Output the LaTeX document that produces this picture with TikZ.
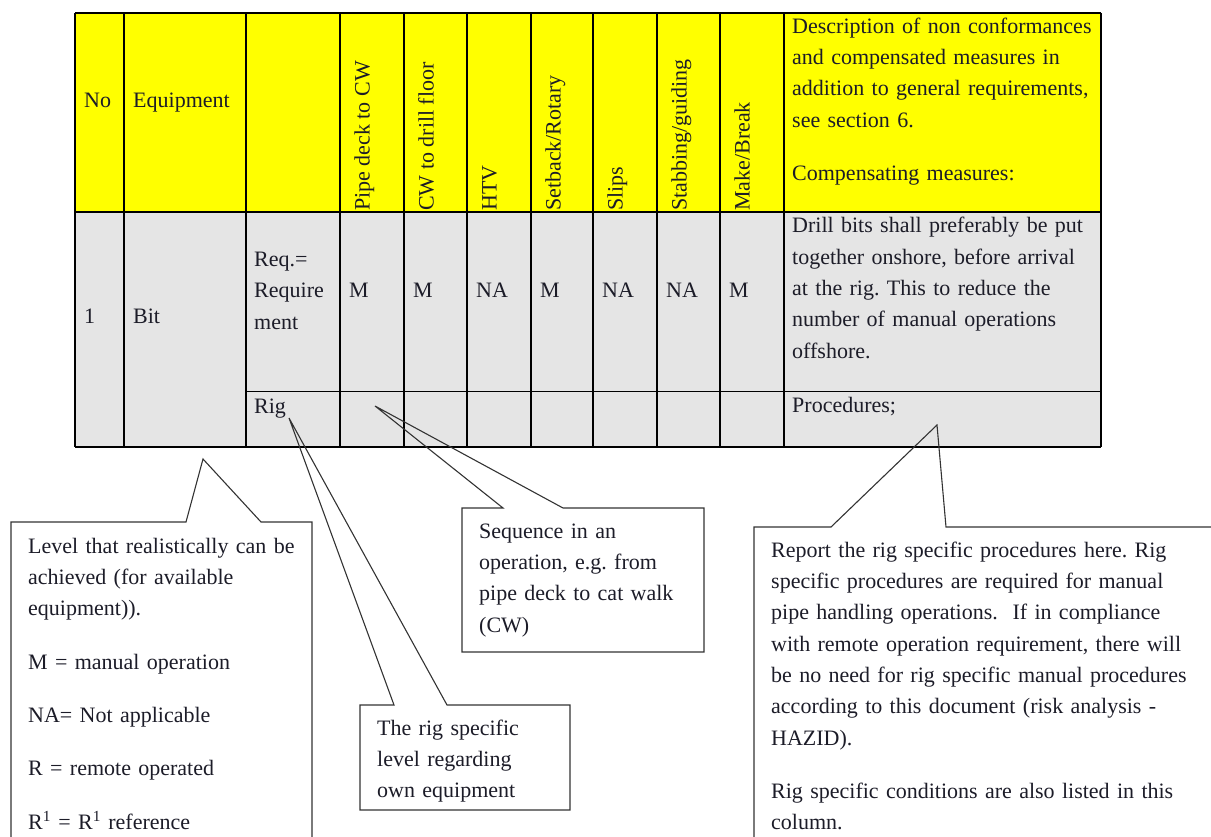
\documentclass[tikz,border=0pt]{standalone}
\usepackage{fontspec}
\setmainfont{Liberation Serif}
\usetikzlibrary{positioning}
\frenchspacing
\definecolor{hdryellow}{RGB}{255,255,0}
\definecolor{cellgrey}{RGB}{229,229,229}
\definecolor{inkdark}{RGB}{28,28,40}
\tikzset
{
    celltext/.style  = {anchor=base west, inner sep=0pt, text=inkdark, font=\fontsize{22}{31.3}\selectfont},
    paratext/.style  = {celltext, align=left, text width=480pt},
    colhead/.style   = {celltext, rotate=90},
    tablerule/.style = {draw=black, line width=1.4pt},
    callout/.style   = {draw=black!80, line width=1.1pt, line join=miter}
}

\begin{document}
\begin{tikzpicture}[x=1pt,y=-1pt]
    \useasboundingbox (0,0) rectangle (1211,837);
    \clip (0,0) rectangle (1211,837);

    % table background
    \fill[hdryellow] (75,13) rectangle (1101,212);
    \fill[cellgrey] (75,212) rectangle (1101,447);

    % table rules
    \draw[tablerule] (75,13) -- (1101,13);
    \draw[tablerule] (75,212) -- (1101,212);
    \draw[tablerule] (246,391.5) -- (1101,391.5);
    \draw[tablerule] (75,447) -- (1101,447);
    \foreach \x in {75,124,246,340,404,467,531,593,657,720,784,1101}
        \draw[tablerule] (\x,13) -- (\x,447);

    % header
    \node[celltext] (no) at (84,107.5) {No};
    \node[celltext] (equip) at (133,107.5) {Equipment};
    \foreach \x/\h/\v [count=\i] in {340/{Pipe deck to CW}/M, 404/{CW to drill floor}/M, 467/HTV/NA,
                                     531/{Setback/Rotary}/M, 593/Slips/NA, 657/{Stabbing/guiding}/NA, 720/{Make/Break}/M}
    {
        \node[colhead] (hd\i) at (\x+29.5,211) {\h};
        \node[celltext] (val\i) at (\x+9,297.7) {\v};
    }
    \node[paratext] (descr) at (792,33.3)
        {Description of non conformances\\and compensated measures in\\addition to general requirements,\\see section 6.\\[22pt]Compensating measures:};

    % row
    \node[celltext] (num) at (84,323.5) {1};
    \node[celltext] (bit) at (133,323.5) {Bit};
    \node[paratext] (req) at (254,266.7) {Req.=\\Require\\ment};
    \node[celltext] (rig) at (254,413.3) {Rig};
    \node[paratext] (drill) at (792,233)
        {Drill bits shall preferably be put\\together onshore, before arrival\\at the rig. This to reduce the\\number of manual operations\\offshore.};
    \node[celltext] (proc) at (792,412.3) {Procedures;};

    % callouts
    \coordinate (levtip) at (203,459);
    \coordinate (rigtip) at (289,418);
    \coordinate (seqtip) at (375,406);
    \coordinate (proctip) at (937,425);

    \draw[callout] (186,522) -- (levtip) -- (261,522) -- (312,522) -- (312,900) -- (11,900) -- (11,522) -- cycle;
    \draw[callout] (394,705) -- (rigtip) -- (447,705) -- (570,705) -- (570,810) -- (360,810) -- (360,705) -- cycle;
    \draw[callout] (503,508) -- (seqtip) -- (563,508) -- (704,508) -- (704,652) -- (462,652) -- (462,508) -- cycle;
    \draw[callout] (831,527) -- (proctip) -- (946,527) -- (1300,527) -- (1300,900) -- (754,900) -- (754,527) -- cycle;

    \node[paratext] (level) at (28,553.3)
        {Level that realistically can be\\achieved (for available\\equipment)).\\[22pt]M = manual operation\\[22pt]NA= Not applicable\\[22pt]R = remote operated\\[22pt]R\textsuperscript{1} = R\textsuperscript{1} reference};
    \node[paratext] (rigspec) at (377,735) {The rig specific\\level regarding\\own equipment};
    \node[paratext] (seq) at (479,538.3) {Sequence in an\\operation, e.g. from\\pipe deck to cat walk\\(CW)};
    \node[paratext] (report) at (771,557.3)
        {Report the rig specific procedures here. Rig\\specific procedures are required for manual\\pipe handling operations.\ \ If in compliance\\with remote operation requirement, there will\\be no need for rig specific manual procedures\\according to this document (risk analysis -\\HAZID).\\[22pt]Rig specific conditions are also listed in this\\column.};
\end{tikzpicture}
\end{document}
